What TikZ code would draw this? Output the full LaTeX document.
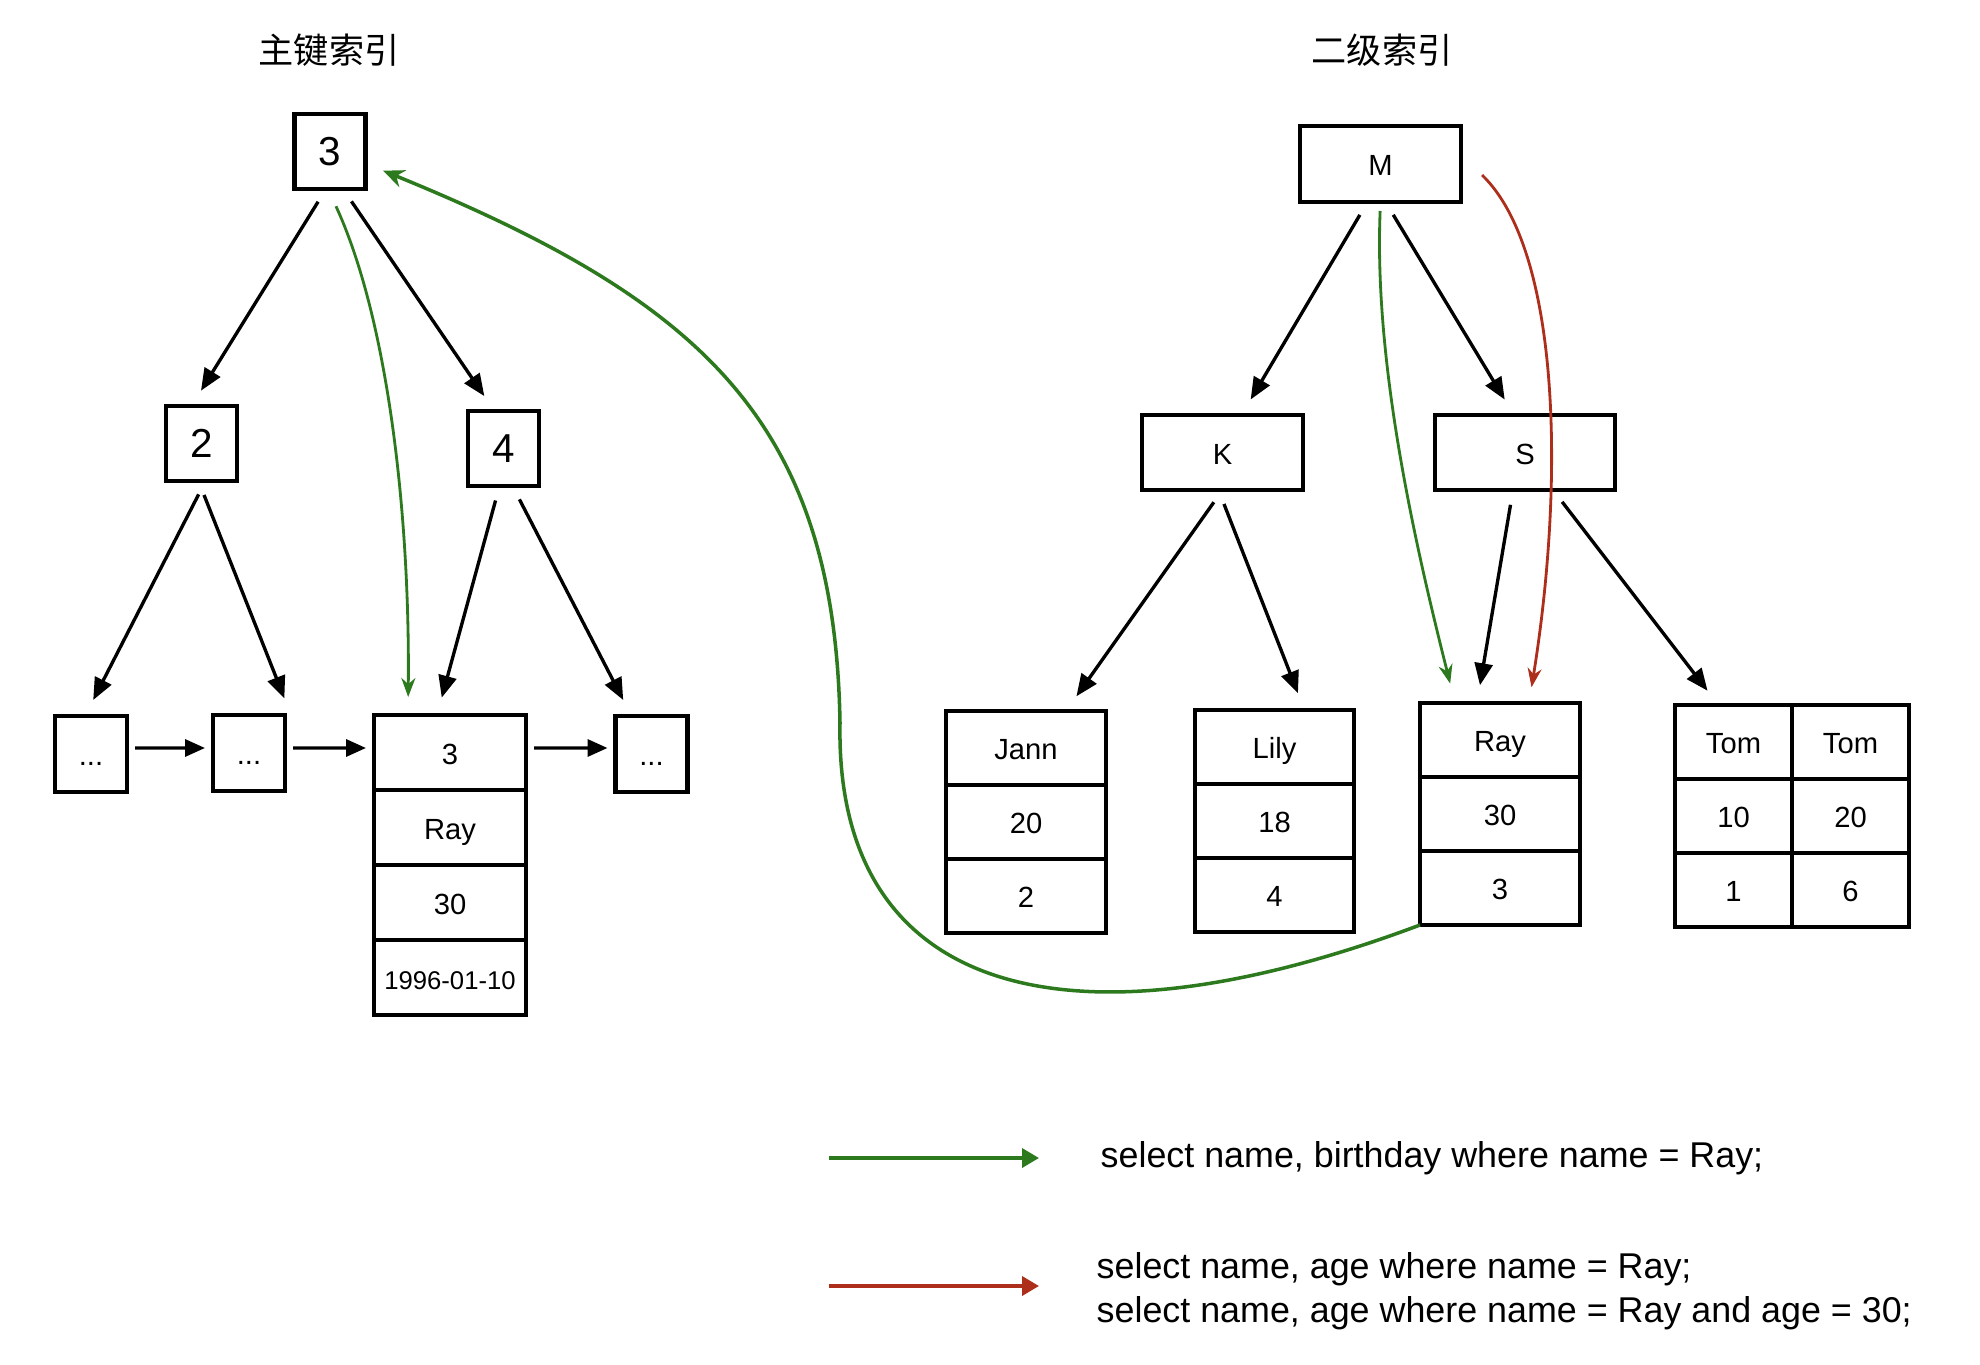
\documentclass[tikz,border=0pt]{standalone}
\usepackage{fontspec}
\setmainfont{Liberation Sans}
\newfontfamily\cjk{Noto Sans CJK SC}
\usetikzlibrary{positioning,arrows.meta,calc}
\definecolor{qgreen}{HTML}{2D7A1E}
\definecolor{qred}{HTML}{AE2E1C}

\begin{document}
\begin{tikzpicture}[
  box/.style={draw,line width=1.2pt,inner sep=0pt,outer sep=0pt,minimum width=0.71cm,minimum height=0.75cm,font=\fontsize{11.5}{12}\selectfont,text height=0.8em,text depth=0pt},
  cell/.style={draw,line width=1.2pt,inner sep=0pt,outer sep=0pt,minimum width=1.6cm,minimum height=0.74cm,font=\fontsize{8.3}{10}\selectfont,text height=0.68em,text depth=0pt},
  arr/.style={-{Triangle[length=2.2mm,width=1.8mm]},line width=0.95pt,shorten <=1.5mm,shorten >=1.8mm},
  link/.style={-{Triangle[length=2mm,width=1.7mm]},line width=0.95pt,shorten <=0.8mm,shorten >=0.8mm},
  hit/.style={-{Stealth[length=1.9mm,width=1.4mm]},line width=0.8pt},
  legend/.style={-{Triangle[length=1.7mm,width=1.9mm]},line width=1.05pt},
  title/.style={font=\cjk\fontsize{10}{12}\selectfont},
  query/.style={anchor=west,inner sep=0pt,align=left,font=\fontsize{10.2}{12.5}\selectfont}
]
\useasboundingbox (0,0) rectangle (19.80,13.64);

% titles
\node[title] (pk) at (3.29,13.14) {主键索引};
\node[title] (sk) at (13.82,13.14) {二级索引};

% primary index
\node[box] (t3) at (3.30,12.125) {3};
\node[box] (t2) at (2.015,9.205) {2};
\node[box] (t4) at (5.035,9.155) {4};

\node[cell,minimum width=0.72cm,minimum height=0.76cm] (l1) at (0.91,6.10) {...};
\node[cell,minimum width=0.72cm,minimum height=0.76cm] (l2) at (2.49,6.11) {...};
\node[cell,minimum width=1.52cm,minimum height=0.75cm] (r1) at (4.50,6.115) {3};
\node[cell,minimum width=1.52cm,minimum height=0.75cm,below=0pt of r1] (r2) {Ray};
\node[cell,minimum width=1.52cm,minimum height=0.75cm,below=0pt of r2] (r3) {30};
\node[cell,minimum width=1.52cm,minimum height=0.75cm,below=0pt of r3,font=\fontsize{7.3}{9}\selectfont] (r4) {1996-01-10};
\node[cell,minimum width=0.72cm,minimum height=0.76cm] (l4) at (6.515,6.10) {...};

\draw[arr] ([xshift=-0.4mm]t3.south) -- ([xshift=-1mm]t2.north);
\draw[arr] ([xshift=1.3mm]t3.south) -- ([xshift=-0.9mm]t4.north);
\draw[arr] ([xshift=0.4mm]t2.south) -- ([xshift=-0.6mm]l1.north);
\draw[arr] ([xshift=-0.3mm]t2.south) -- ([xshift=0.6mm]l2.north east);
\draw[arr] ([xshift=-0.4mm]t4.south) -- ([xshift=-1.3mm]r1.north);
\draw[arr] ([xshift=0.9mm]t4.south) -- ([xshift=-2mm]l4.north);

\draw[link] ([yshift=0.6mm]l1.east) -- ([yshift=0.5mm]l2.west);
\draw[link] ([yshift=0.5mm]l2.east) -- ([yshift=0.45mm]r1.west);
\draw[link] ([yshift=0.45mm]r1.east) -- ([yshift=0.6mm]l4.west);

% secondary index
\node[cell,minimum width=1.61cm,minimum height=0.76cm] (m) at (13.805,12.00) {M};
\node[cell,minimum width=1.61cm,minimum height=0.75cm] (k) at (12.225,9.115) {K};
\node[cell,minimum width=1.80cm,minimum height=0.75cm] (s) at (15.25,9.115) {S};

\node[cell] (jann1) at (10.26,6.16) {Jann};
\node[cell,below=0pt of jann1] (jann2) {20};
\node[cell,below=0pt of jann2] (jann3) {2};
\node[cell,minimum width=1.59cm] (lily1) at (12.745,6.17) {Lily};
\node[cell,minimum width=1.59cm,below=0pt of lily1] (lily2) {18};
\node[cell,minimum width=1.59cm,below=0pt of lily2] (lily3) {4};
\node[cell] (ray1) at (15.00,6.24) {Ray};
\node[cell,below=0pt of ray1] (ray2) {30};
\node[cell,below=0pt of ray2] (ray3) {3};
\node[cell,minimum width=1.17cm] (tom1) at (17.335,6.22) {Tom};
\node[cell,minimum width=1.17cm,right=0pt of tom1] (tom2) {Tom};
\node[cell,minimum width=1.17cm,below=0pt of tom1] (tom3) {10};
\node[cell,minimum width=1.17cm,below=0pt of tom2] (tom4) {20};
\node[cell,minimum width=1.17cm,below=0pt of tom3] (tom5) {1};
\node[cell,minimum width=1.17cm,below=0pt of tom4] (tom6) {6};

\draw[arr] ([xshift=-1.3mm]m.south) -- ([xshift=1.9mm]k.north);
\draw[arr] ([xshift=0.5mm]m.south) -- ([xshift=-1.1mm]s.north);
\draw[arr] (k.south) -- ([xshift=4mm]jann1.north);
\draw[arr] ([xshift=-0.4mm]k.south) -- ([xshift=3mm]lily1.north);
\draw[arr] ([xshift=-1.2mm]s.south) -- ([xshift=-2.3mm]ray1.north);
\draw[arr] ([xshift=2.8mm]s.south) -- ([xshift=-1.5mm]tom1.north);

% lookups
\draw[hit,qgreen,shorten <=1.9mm,shorten >=1.8mm] ([xshift=-0.2mm]t3.south) .. controls +(0.6,-1.3) and +(0.02,2.0) .. ([xshift=-4.2mm]r1.north);
\draw[hit,qgreen,shorten <=0.9mm,shorten >=2mm] (m.south) .. controls +(-0.07,-1.7) and +(-0.35,1.4) .. ([xshift=-4.5mm]ray1.north);
\draw[hit,qred,shorten >=1.6mm] ([shift={(0.21,-0.11)}]m.east) .. controls +(0.78,-0.75) and +(0.36,2.23) .. ([xshift=2.9mm]ray1.north);

\coordinate (kink) at (8.40,6.41);
\draw[qgreen,line width=1pt,-{Stealth[length=2.1mm,width=1.8mm]},shorten >=1.9mm] (ray3.south west) .. controls (10.60,3.04) and (8.35,3.74) .. (kink) .. controls (8.35,9.44) and (7.00,10.64) .. ([yshift=-1.2mm]t3.east);

% legend
\coordinate (g0) at (8.29,2.06);
\coordinate (g1) at (10.39,2.06);
\coordinate (r0) at (8.29,0.78);
\coordinate (r1e) at (10.39,0.78);
\draw[legend,qgreen] (g0) -- (g1);
\draw[legend,qred] (r0) -- (r1e);
\node[query] (q1) at (11.00,2.06) {select name, birthday where name = Ray;};
\node[query] (q2) at (10.96,0.73) {select name, age where name = Ray;\\select name, age where name = Ray and age = 30;};
\end{tikzpicture}
\end{document}
